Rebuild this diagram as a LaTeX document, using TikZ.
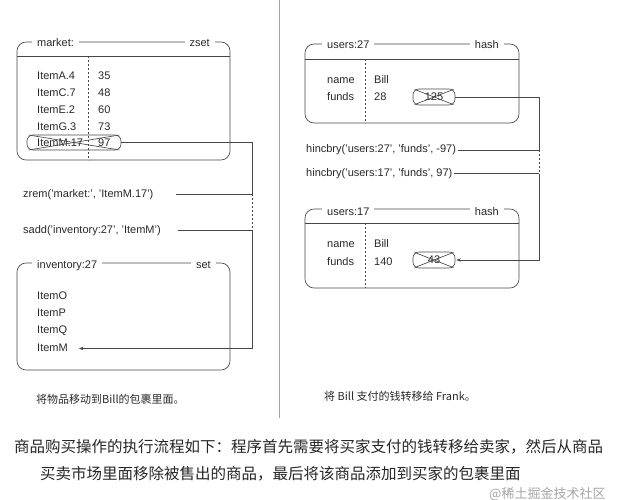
\documentclass[tikz,border=0pt]{standalone}
\usepackage{fontspec}
\setmainfont{Liberation Sans}
\newfontfamily\cjk{Noto Sans CJK SC}
\usetikzlibrary{arrows.meta}

\definecolor{linec}{RGB}{70,70,70}
\definecolor{txtc}{RGB}{40,40,40}
\definecolor{markc}{RGB}{165,165,165}

\tikzset{
	box/.style={draw=linec, line width=0.65pt, rounded corners=9pt},
	conn/.style={draw=linec, line width=0.65pt},
	tip/.style={-{Stealth[length=4.5pt,width=3.5pt]}},
	it/.style={inner sep=0pt, anchor=west, text height=8pt, text depth=2.5pt,
		font=\fontsize{11}{13}\selectfont, text=txtc},
	hd/.style={it, fill=white, inner xsep=5pt},
	gone/.style={draw=linec, line width=0.65pt, rounded corners=6pt, inner sep=0pt},
	zh/.style={inner sep=0pt, anchor=west, text=txtc, font=\cjk\fontsize{11}{13}\selectfont},
}

\begin{document}
\begin{tikzpicture}[x=1pt,y=-1pt]
	\useasboundingbox (0,0) rectangle (621,500);
	
	% 中间的分隔线
	\draw[conn, draw=markc] (279,0) -- (279,418);
	
	% market: 有序集合
	\draw[box] (17,42) rectangle (230,160);
	\draw[conn] (17,56) -- (230,56);
	\draw[conn, dash pattern=on 2pt off 2pt] (88,56) -- (88,160);
	\node[hd] (mkname) at (32,43.5) {market:};
	\node[hd, anchor=east] (mktype) at (215,43.5) {zset};
	\node[it] (kA) at (37,76.5) {ItemA.4};   \node[it] (vA) at (98,76.5) {35};
	\node[it] (kC) at (37,93.5) {ItemC.7};   \node[it] (vC) at (98,93.5) {48};
	\node[it] (kE) at (37,110.5) {ItemE.2};  \node[it] (vE) at (98,110.5) {60};
	\node[it] (kG) at (37,127.5) {ItemG.3};  \node[it] (vG) at (98,127.5) {73};
	\node[it] (kM) at (37,144) {ItemM.17};   \node[it] (vM) at (98,144) {97};
	\node[gone, minimum width=94pt, minimum height=15pt] (mgone) at (74,142.5) {};
	\draw[conn, shorten <=2pt, shorten >=2pt] (mgone.north west) -- (mgone.south east);
	\draw[conn, shorten <=2pt, shorten >=2pt] (mgone.south west) -- (mgone.north east);
	
	% 两条命令
	\node[it] (zrem) at (23,194.3) {zrem('market:', 'ItemM.17')};
	\node[it] (sadd) at (23,230.7) {sadd('inventory:27', 'ItemM')};
	
	% inventory:27 集合
	\draw[box] (17,263) rectangle (230,370);
	\node[hd] (invname) at (32,266) {inventory:27};
	\node[hd, anchor=east] (invtype) at (216,266) {set};
	\node[it] (iO) at (37,297) {ItemO};
	\node[it] (iP) at (37,314) {ItemP};
	\node[it] (iQ) at (37,331) {ItemQ};
	\node[it] (iM) at (37,348.5) {ItemM};
	
	% 左边的连线
	\coordinate (a1) at (252,142.5);
	\coordinate (a2) at (252,194.3);
	\coordinate (a3) at (252,230.7);
	\coordinate (a4) at (252,348.5);
	\draw[conn] (mgone.east) -- (a1) -- (a2);
	\draw[conn, shorten <=22pt] (zrem.east) -- (a2);
	\draw[conn, dash pattern=on 2pt off 2pt] (a2) -- (a3);
	\draw[conn, shorten <=17pt] (sadd.east) -- (a3);
	\draw[conn, tip, shorten >=11pt] (a3) -- (a4) -- (iM.east);
	
	% users:27 散列
	\draw[box] (305,44) rectangle (519,123);
	\draw[conn] (305,59) -- (519,59);
	\draw[conn, dash pattern=on 2pt off 2pt] (365,59) -- (365,123);
	\node[hd] (uAname) at (322,45.3) {users:27};
	\node[hd, anchor=east] (uAtype) at (504,45.3) {hash};
	\node[it] (uAk1) at (327,80.3) {name};   \node[it] (uAv1) at (374,80.3) {Bill};
	\node[it] (uAk2) at (327,98) {funds};    \node[it] (uAv2) at (374,98) {28};
	\node[it, anchor=center] (uAold) at (434,98) {125};
	\node[gone, minimum width=42pt, minimum height=16pt] (uAgone) at (434,97) {};
	\draw[conn, shorten <=2pt, shorten >=2pt] (uAgone.north west) -- (uAgone.south east);
	\draw[conn, shorten <=2pt, shorten >=2pt] (uAgone.south west) -- (uAgone.north east);
	
	% 两条命令
	\node[it] (hA) at (306,150) {hincbry('users:27', 'funds', -97)};
	\node[it] (hB) at (306,173.7) {hincbry('users:17', 'funds', 97)};
	
	% users:17 散列
	\draw[box] (305,209) rectangle (519,288);
	\draw[conn] (305,223) -- (519,223);
	\draw[conn, dash pattern=on 2pt off 2pt] (365,223) -- (365,288);
	\node[hd] (uBname) at (322,212.3) {users:17};
	\node[hd, anchor=east] (uBtype) at (504,212.3) {hash};
	\node[it] (uBk1) at (327,244.7) {name};  \node[it] (uBv1) at (374,244.7) {Bill};
	\node[it] (uBk2) at (327,262.5) {funds}; \node[it] (uBv2) at (374,262.5) {140};
	\node[it, anchor=center] (uBold) at (434,261) {43};
	\node[gone, minimum width=42pt, minimum height=16pt] (uBgone) at (434,260) {};
	\draw[conn, shorten <=2pt, shorten >=2pt] (uBgone.north west) -- (uBgone.south east);
	\draw[conn, shorten <=2pt, shorten >=2pt] (uBgone.south west) -- (uBgone.north east);
	
	% 右边的连线
	\coordinate (b1) at (539,97);
	\coordinate (b2) at (539,150);
	\coordinate (b3) at (539,173.7);
	\coordinate (b4) at (539,260);
	\draw[conn] (uAgone.east) -- (b1) -- (b2);
	\draw[conn, shorten <=2pt] (hA.east) -- (b2);
	\draw[conn, dash pattern=on 2pt off 2pt] (b2) -- (b3);
	\draw[conn, shorten <=1pt] (hB.east) -- (b3);
	\draw[conn, tip, shorten >=1pt] (b3) -- (b4) -- (uBgone.east);
	
	% 图下方的说明
	\node[zh] (capL) at (36,399) {将物品移动到Bill的包裹里面。};
	\node[zh] (capR) at (324,396) {将 Bill 支付的钱转移给 Frank。};
	\node[zh, font=\cjk\fontsize{15.5}{18}\selectfont, text=black!85] (noteA) at (14,447)
		{商品购买操作的执行流程如下：程序首先需要将买家支付的钱转移给卖家，然后从商品};
	\node[zh, font=\cjk\fontsize{15.5}{18}\selectfont, text=black!85] (noteB) at (40,474)
		{买卖市场里面移除被售出的商品，最后将该商品添加到买家的包裹里面};
	\node[zh, font=\cjk\fontsize{13}{15}\selectfont, text=markc] (mark) at (489,494) {@稀土掘金技术社区};
\end{tikzpicture}
\end{document}
